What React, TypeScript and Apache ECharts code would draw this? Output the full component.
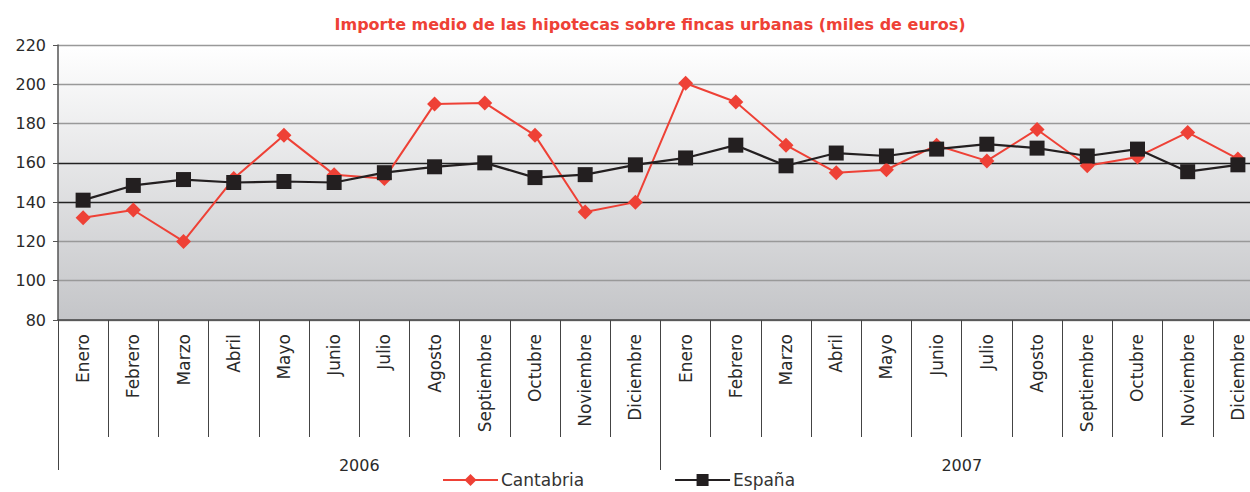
import React, { useEffect, useRef } from "react";
import * as echarts from "echarts";

const months = [
  "Enero", "Febrero", "Marzo", "Abril", "Mayo", "Junio", "Julio", "Agosto",
  "Septiembre", "Octubre", "Noviembre", "Diciembre",
];
const categories = [...months, ...months];
const years = ["2006", "2007"];
const cantabria = [
  132, 136, 120, 152, 174, 154, 152, 190, 190.5, 174, 135, 140,
  200.5, 191, 169, 155, 156.5, 169, 161, 177, 158.5, 163, 175.5, 162,
];
const espana = [
  141, 148.5, 151.5, 150, 150.5, 150, 155, 158, 160, 152.5, 154, 159,
  162.5, 169, 158.5, 165, 163.5, 167, 169.5, 167.5, 163.5, 167, 155.5, 159,
];
const yTicks = { min: 80, max: 220, interval: 20 };

const FONT = "DejaVu Sans";

export default function App() {
  const ref = useRef<HTMLDivElement>(null);
  useEffect(() => {
    if (!ref.current) return;
    const chart = echarts.init(ref.current, null, { renderer: "svg" });
    chart.setOption({
      animation: false,
      textStyle: { fontFamily: FONT },
      title: {
        text: "Importe medio de las hipotecas sobre fincas urbanas (miles de euros)",
        left: 645,
        top: 11,
        textAlign: "center",
        textStyle: { color: "#ee4136", fontSize: 16, fontWeight: "bold", fontFamily: FONT },
      },
      legend: {
        left: 442,
        top: 471,
        padding: 0,
        itemWidth: 55,
        itemHeight: 15,
        itemGap: 90,
        textStyle: { fontSize: 17, lineHeight: 18, color: "#333", fontFamily: FONT, padding: [0, 0, 0, -2] },
        data: ["Cantabria", "España"],
      },
      grid: {
        left: 58,
        top: 45,
        right: 2,
        bottom: 172,
        show: true,
        borderWidth: 0,
        backgroundColor: new echarts.graphic.LinearGradient(0, 0, 0, 1, [
          { offset: 0, color: "#ffffff" },
          { offset: 1, color: "#c4c5c8" },
        ]),
      },
      xAxis: [
        {
          type: "category",
          data: categories,
          boundaryGap: true,
          axisLine: { show: true, lineStyle: { color: "#444", width: 1.5 } },
          axisTick: { show: true, length: 117, lineStyle: { color: "#444", width: 1 } },
          axisLabel: {
            rotate: 90,
            interval: 0,
            margin: 14,
            fontSize: 17,
            color: "#2a2a2a",
            fontFamily: FONT,
          },
        },
        {
          type: "category",
          data: years,
          position: "bottom",
          boundaryGap: true,
          axisLine: { show: false },
          axisTick: { show: true, length: 150, lineStyle: { color: "#444", width: 1 } },
          axisLabel: { margin: 137, fontSize: 16, color: "#2a2a2a", fontFamily: FONT },
        },
      ],
      yAxis: {
        type: "value",
        min: yTicks.min,
        max: yTicks.max,
        interval: yTicks.interval,
        axisLine: { show: true, lineStyle: { color: "#555", width: 1.5 } },
        axisTick: { show: true, length: 5, lineStyle: { color: "#555" } },
        axisLabel: { fontSize: 16, color: "#2a2a2a", margin: 12, fontFamily: FONT },
        splitLine: {
          show: true,
          lineStyle: {
            color: ["#999", "#999", "#999", "#222", "#222", "#999", "#999", "#999"],
            width: 1.3,
          },
        },
      },
      series: [
        {
          name: "Cantabria",
          type: "line",
          data: cantabria,
          symbol: "diamond",
          symbolSize: 15,
          color: "#ee4136",
          lineStyle: { color: "#ee4136", width: 2 },
          itemStyle: { color: "#ee4136" },
          z: 2,
        },
        {
          name: "España",
          type: "line",
          data: espana,
          symbol: "rect",
          symbolSize: 15,
          color: "#231f20",
          lineStyle: { color: "#231f20", width: 2.2 },
          itemStyle: { color: "#231f20" },
          z: 3,
        },
      ],
    });
    return () => chart.dispose();
  }, []);
  return (
    <div style={{ position: "fixed", left: 0, top: 0, width: 1250, height: 492, overflow: "hidden", background: "#fff" }}>
      <div ref={ref} style={{ width: 1265, height: 492 }} />
    </div>
  );
}
